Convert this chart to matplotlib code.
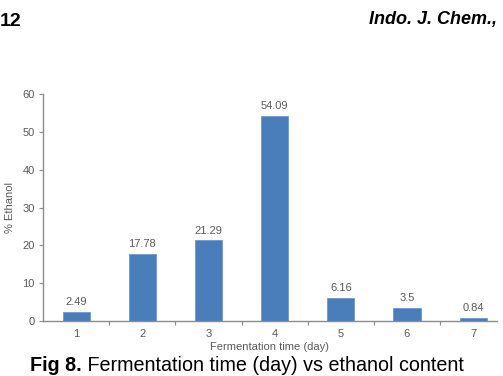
import matplotlib
matplotlib.use("Agg")
import matplotlib.pyplot as plt
import numpy as np

days = ["1", "2", "3", "4", "5", "6", "7"]
ethanol = [2.49, 17.78, 21.29, 54.09, 6.16, 3.5, 0.84]
labels = ["2.49", "17.78", "21.29", "54.09", "6.16", "3.5", "0.84"]
yticks = [0, 10, 20, 30, 40, 50, 60]

plt.rcParams['font.family'] = ['Liberation Sans', 'DejaVu Sans']

fig = plt.figure(figsize=(5.03, 3.76), dpi=100)
ax = fig.add_axes([43/503, 55/376, 454/503, 227/376])

x = np.arange(len(days))
bar_color = '#4a7ebb'
grey = '#595959'
spine_grey = '#8c8c8c'
ax.bar(x, ethanol, width=0.41, color=bar_color, edgecolor='#6d97cc', linewidth=0.6)

for xi, v, lab in zip(x, ethanol, labels):
    ax.annotate(lab, (xi, v), xytext=(0, 3.5), textcoords='offset points',
                ha='center', va='bottom', fontsize=8, color=grey)

ax.set_xlim(-0.5, 6.36)
ax.set_ylim(0, 60)
ax.set_yticks(yticks)
ax.set_yticklabels([str(t) for t in yticks], fontsize=8, color=grey)
ax.set_xticks(x)
ax.set_xticklabels(days, fontsize=8, color=grey)
ax.tick_params(axis='x', which='major', length=0, pad=6)
ax.set_xticks(np.arange(0.5, 6.5, 1), minor=True)
ax.tick_params(axis='x', which='minor', length=3, color=spine_grey, width=0.8)
ax.tick_params(axis='y', length=3, color=spine_grey, width=0.8, pad=3)

for s in ['top', 'right']:
    ax.spines[s].set_visible(False)
for s in ['left', 'bottom']:
    ax.spines[s].set_color(spine_grey)
    ax.spines[s].set_linewidth(1.0)

ax.set_xlabel("Fermentation time (day)", fontsize=8, color=grey, labelpad=2)
ax.set_ylabel("% Ethanol", fontsize=8, color=grey, labelpad=5)

fig.text(0.0, 1 - 26/376, "12", fontsize=14, fontweight='bold', ha='left', va='baseline')
fig.text(497/503, 1 - 24/376, "Indo. J. Chem.,", fontsize=13, fontweight='bold',
         fontstyle='italic', ha='right', va='baseline')

cap_y = 1 - 371/376
t1 = fig.text(30/503, cap_y, "Fig 8.", fontsize=14.2, fontweight='bold', ha='left', va='baseline')
fig.canvas.draw()
bb = t1.get_window_extent(renderer=fig.canvas.get_renderer())
fig.text(bb.x1/fig.bbox.width, cap_y, " Fermentation time (day) vs ethanol content",
         fontsize=14.2, ha='left', va='baseline')

fig.savefig("out.png", dpi=100)
